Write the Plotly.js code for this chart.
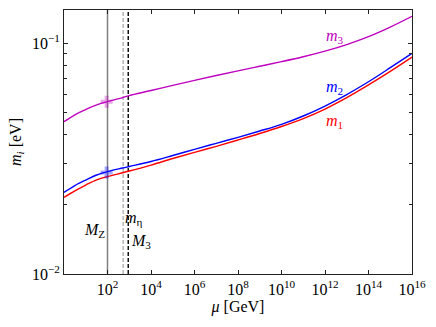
<!DOCTYPE html>
<html>
<head>
<meta charset="utf-8">
<script src="https://cdn.plot.ly/plotly-3.0.1.min.js"></script>
<style>
  html, body { margin: 0; padding: 0; background: #fff; }
  #plot { width: 436px; height: 327px; }
</style>
</head>
<body>
<div id="plot"></div>
<script>
// renormalisation scale mu [GeV]
const mu = [1, 3.16, 10, 31.6, 100, 500, 1000, 1e4, 1e5, 1e6, 1e7, 1e8, 1e9, 1e10,
            1e11, 1e12, 1e13, 1e14, 1e15, 1e16];

// neutrino masses [eV]
const m1 = [0.02148, 0.02291, 0.02428, 0.02557, 0.02642, 0.02744, 0.02791, 0.02963, 0.03162, 0.03364,
            0.03571, 0.03803, 0.04057, 0.04350, 0.04707, 0.05179, 0.05803, 0.06586, 0.07542, 0.08697];
const m2 = [0.02258, 0.02416, 0.02552, 0.02683, 0.02775, 0.02876, 0.02920, 0.03069, 0.03258, 0.03466,
            0.03680, 0.03906, 0.04159, 0.04446, 0.04831, 0.05337, 0.05985, 0.06798, 0.07819, 0.09025];
const m3 = [0.04564, 0.04889, 0.05152, 0.05400, 0.05580, 0.05807, 0.05923, 0.06229, 0.06560, 0.06895,
            0.07233, 0.07580, 0.07936, 0.08308, 0.08723, 0.09225, 0.09851, 0.1066, 0.1172, 0.1305];

// starting values at M_Z
const startMu = [91.19, 91.19];
const startM = [0.0275, 0.0557];

// thresholds
const scaleVals = [100, 525, 900];

const yRange = [0.01, 0.139];

const xTicks = [1e2, 1e4, 1e6, 1e8, 1e10, 1e12, 1e14, 1e16];
const xTickText = xTicks.map(v => '10<sup>' + Math.round(Math.log10(v)) + '</sup>');
const yTicks = [0.01, 0.1];
const yTickText = ['10<sup>−2</sup>', '10<sup>−1</sup>'];
const yMinor = [0.02, 0.03, 0.04, 0.05, 0.06, 0.07, 0.08, 0.09];

const serif = 'Liberation Serif, DejaVu Serif, serif';

let traces = [];

// vertical threshold lines
const vStyles = [
    { color: '#808080', width: 1.5, dash: 'solid' },
    { color: '#b8b8b8', width: 1.5, dash: '4px,2px' },
    { color: '#111111', width: 1.5, dash: '4px,2px' }
];
for (let i = 0; i < scaleVals.length; i++) {
    traces.push({
        x: [scaleVals[i], scaleVals[i]],
        y: yRange,
        mode: 'lines',
        line: vStyles[i],
        hoverinfo: 'skip'
    });
}

const curveColors = ['#bf00bf', '#0000ff', '#ff0000'];
[m3, m2, m1].forEach((ys, k) => {
    traces.push({ x: mu, y: ys, mode: 'lines', line: { color: curveColors[k], width: 1.4, shape: 'spline', smoothing: 1 } });
});

traces.push({
    x: startMu,
    y: startM,
    mode: 'markers',
    marker: { symbol: 'cross', size: 10, color: ['#0000ff', '#bf00bf'], opacity: 0.35 }
});

const labelFont = { family: serif, size: 16, color: '#000' };
const annotations = [
    { x: Math.log10(scaleVals[0]), y: Math.log10(0.0155), text: '<i>M</i><sub>Z</sub>', xanchor: 'right', xshift: -1 },
    { x: Math.log10(scaleVals[1]), y: Math.log10(0.01735), text: '<i>m</i><sub>η</sub>', xanchor: 'left', xshift: 0 },
    { x: Math.log10(scaleVals[2]), y: Math.log10(0.01385), text: '<i>M</i><sub>3</sub>', xanchor: 'left', xshift: 1 },
    { x: 12.45, y: Math.log10(0.1065), text: '<i>m</i><sub>3</sub>', font: { family: serif, size: 16, color: '#bf00bf' } },
    { x: 12.45, y: Math.log10(0.0640), text: '<i>m</i><sub>2</sub>', font: { family: serif, size: 16, color: '#0000ff' } },
    { x: 12.45, y: Math.log10(0.0457), text: '<i>m</i><sub>1</sub>', font: { family: serif, size: 16, color: '#ff0000' } }
].map(a => Object.assign({ xref: 'x', yref: 'y', showarrow: false, font: labelFont }, a));

const axisCommon = {
    type: 'log',
    showgrid: false,
    zeroline: false,
    showline: true,
    linecolor: '#222',
    linewidth: 1,
    mirror: 'allticks',
    ticks: 'inside',
    ticklen: 4,
    tickcolor: '#222',
    tickmode: 'array',
    tickfont: { family: serif, size: 16, color: '#000' }
};

const layout = {
    width: 436,
    height: 327,
    margin: { l: 64, r: 24, t: 10, b: 53 },
    paper_bgcolor: '#fff',
    plot_bgcolor: '#fff',
    showlegend: false,
    xaxis: Object.assign({}, axisCommon, {
        range: [0, 16],
        tickvals: xTicks,
        ticktext: xTickText,
        ticklabelstandoff: 1,
        title: { text: '<i>μ</i> [GeV]', font: { family: serif, size: 16, color: '#000' }, standoff: 2 }
    }),
    yaxis: Object.assign({}, axisCommon, {
        range: [Math.log10(yRange[0]), Math.log10(yRange[1])],
        tickvals: yTicks,
        ticktext: yTickText,
        minor: { ticks: 'inside', ticklen: 3, tickcolor: '#222', tickvals: yMinor },
        title: { text: '<i>m<sub>i</sub></i> [eV]', font: { family: serif, size: 16, color: '#000' }, standoff: 6 }
    }),
    annotations: annotations
};

Plotly.newPlot('plot', traces, layout, { staticPlot: true });
</script>
</body>
</html>
